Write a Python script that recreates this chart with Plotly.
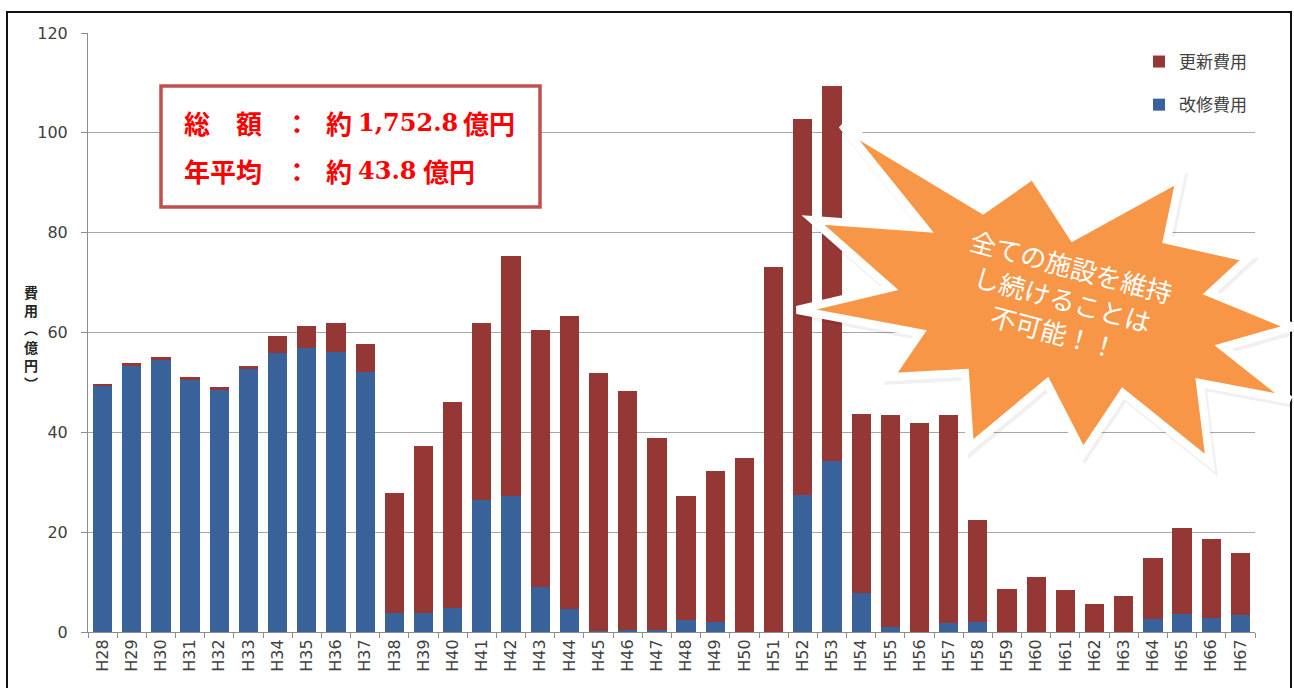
import plotly.graph_objects as go

# ---------------- data ----------------
years = ["H28", "H29", "H30", "H31", "H32", "H33", "H34", "H35", "H36", "H37",
         "H38", "H39", "H40", "H41", "H42", "H43", "H44", "H45", "H46", "H47",
         "H48", "H49", "H50", "H51", "H52", "H53", "H54", "H55", "H56", "H57",
         "H58", "H59", "H60", "H61", "H62", "H63", "H64", "H65", "H66", "H67"]

kaishu = [49.2, 53.3, 54.4, 50.4, 48.5, 52.7, 55.9, 56.9, 56.1, 52.1,
          3.9, 3.9, 4.9, 26.5, 27.2, 9.0, 4.7, 0.3, 0.4, 0.4,
          2.5, 2.1, 0.0, 0.0, 27.5, 34.2, 7.8, 1.0, 0.0, 1.8,
          2.0, 0.0, 0.0, 0.0, 0.0, 0.0, 2.7, 3.7, 2.8, 3.4]

koshin = [0.4, 0.6, 0.6, 0.6, 0.5, 0.6, 3.3, 4.5, 5.9, 5.5,
          24.0, 33.4, 41.2, 35.4, 48.1, 51.5, 58.6, 51.6, 47.8, 38.4,
          24.7, 30.1, 34.8, 73.1, 75.3, 75.1, 35.8, 42.4, 41.8, 41.6,
          20.4, 8.7, 11.0, 8.4, 5.6, 7.2, 12.1, 17.2, 15.9, 12.5]

series_names = ["改修費用", "更新費用"]
y_ticks = [0, 20, 40, 60, 80, 100, 120]
y_title_chars = ["費", "用", "︵", "億", "円", "︶"]
box_labels = ["総　額", "年平均"]
box_numbers = ["1,752.8", "43.8"]
box_unit = "億円"
burst_text = "全ての施設を維持<br>し続けることは<br>不可能！！"

# ---------------- layout helpers (pixel -> paper) ----------------
W, H = 1294, 688
ML, MR, MT, MB = 88, 39, 33, 56
PW, PH = W - ML - MR, H - MT - MB


def pxx(x):
    return (x - ML) / PW


def pxy(y):
    return (MT + PH - y) / PH


RED = "#953735"
BLUE = "#386299"

fig = go.Figure()
fig.add_trace(go.Bar(x=years, y=kaishu, name=series_names[0], marker_color=BLUE,
                     marker_line_width=0, legendgroup="a", legendrank=2))
fig.add_trace(go.Bar(x=years, y=koshin, name=series_names[1], marker_color=RED,
                     marker_line_width=0, legendgroup="b", legendrank=1))

shapes = []
annotations = []

# outer frame
shapes.append(dict(type="rect", xref="paper", yref="paper",
                   x0=pxx(7), x1=pxx(1291), y0=pxy(740), y1=pxy(12),
                   line=dict(color="#111111", width=2), fillcolor="rgba(0,0,0,0)",
                   layer="above"))

# summary text box
shapes.append(dict(type="rect", xref="paper", yref="paper",
                   x0=pxx(161), x1=pxx(540), y0=pxy(207), y1=pxy(86),
                   line=dict(color="#C0504D", width=3.5), fillcolor="white",
                   layer="above"))
cjk_font = dict(family="Noto Sans CJK JP", size=26, color="#FF0000")
num_font = dict(family="DejaVu Serif", size=24, color="#FF0000")
for i, (lab, num) in enumerate(zip(box_labels, box_numbers)):
    yy = pxy(123 + i * 48)
    common = dict(xref="paper", yref="paper", y=yy, showarrow=False, yanchor="middle")
    annotations.append(dict(common, x=pxx(182), text="<b>" + lab + "</b>", xanchor="left", font=cjk_font))
    annotations.append(dict(common, x=pxx(297), text="<b>：</b>", xanchor="center", font=cjk_font))
    annotations.append(dict(common, x=pxx(324), text="<b>約</b>", xanchor="left", font=cjk_font))
    annotations.append(dict(common, x=pxx(356), text="<b>" + num + "</b>", xanchor="left", font=num_font))
    annotations.append(dict(common, x=pxx(357 + (104 if i == 0 else 64)), text="<b>" + box_unit + "</b>",
                            xanchor="left", font=cjk_font))

# starburst callout (decoration, pixel outline)
burst = [(813, 220), (925, 228), (842, 125), (983, 210), (1033, 175), (1073, 237),
         (1180, 178), (1167, 240), (1248, 258), (1210, 293), (1293, 327), (1223, 347),
         (1290, 400), (1200, 383), (1210, 463), (1123, 393), (1083, 453), (1047, 383),
         (970, 447), (965, 373), (890, 377), (920, 333), (797, 310), (890, 288)]


def path_of(pts, dx=0, dy=0):
    s = ""
    for k, (x, y) in enumerate(pts):
        s += ("M" if k == 0 else "L") + f"{pxx(x + dx):.5f},{pxy(y + dy):.5f}"
    return s + "Z"


shapes.append(dict(type="path", xref="paper", yref="paper", path=path_of(burst, 2, 3),
                   fillcolor="rgba(0,0,0,0.06)", line=dict(width=9, color="rgba(0,0,0,0.06)"),
                   layer="above"))
shapes.append(dict(type="path", xref="paper", yref="paper", path=path_of(burst),
                   fillcolor="#F79646", line=dict(width=8, color="white"), layer="above"))
annotations.append(dict(xref="paper", yref="paper", x=pxx(1063), y=pxy(298), text=burst_text,
                        showarrow=False, xanchor="center", yanchor="middle", textangle=15,
                        align="center",
                        font=dict(family="Noto Sans CJK JP", size=26, color="white")))

# y-axis title, vertical stacked characters
annotations.append(dict(xref="paper", yref="paper", x=pxx(31), y=pxy(337),
                        text="<b>" + "<br>".join(y_title_chars) + "</b>", showarrow=False,
                        xanchor="center", yanchor="middle",
                        font=dict(family="Noto Sans CJK JP", size=14, color="#262626")))

fig.update_layout(
    width=W, height=H,
    margin=dict(l=ML, r=MR, t=MT, b=MB, pad=0),
    barmode="stack", bargap=0.34,
    paper_bgcolor="white", plot_bgcolor="white",
    font=dict(family="DejaVu Sans", color="#404040"),
    showlegend=True,
    legend=dict(x=pxx(1139), y=pxy(44), xanchor="left", yanchor="top",
                traceorder="grouped", tracegroupgap=18,
                font=dict(family="Noto Sans CJK JP", size=17, color="#404040"),
                bgcolor="rgba(0,0,0,0)", itemwidth=30),
    shapes=shapes, annotations=annotations,
)
fig.update_xaxes(type="category", tickangle=-90, tickfont=dict(size=16, color="#404040"),
                 showline=True, linecolor="#8C8C8C", linewidth=1,
                 ticks="outside", tickson="boundaries", ticklen=5, tickcolor="#8C8C8C",
                 showgrid=False, automargin=False)
fig.update_yaxes(range=[0, 120], tickvals=y_ticks, tickfont=dict(size=16, color="#404040"),
                 showline=True, linecolor="#8C8C8C", linewidth=1,
                 ticks="outside", ticklen=6, tickcolor="#8C8C8C", ticklabelstandoff=10,
                 gridcolor="#A6A6A6", gridwidth=1, zeroline=False, automargin=False)

fig.write_html("out.html")
